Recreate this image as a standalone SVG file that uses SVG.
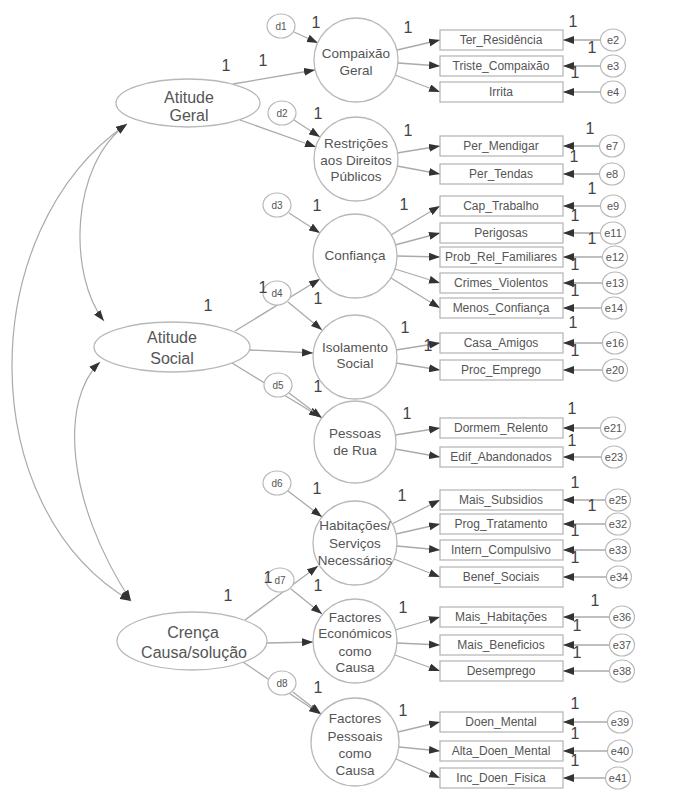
<svg xmlns="http://www.w3.org/2000/svg" width="673" height="791" viewBox="0 0 673 791">
<style>
.bg{fill:#fff}
.lat{fill:#fff;stroke:#b8b8b8;stroke-width:1.3}
.obs{fill:#fff;stroke:#b8b8b8;stroke-width:1.3}
.err{fill:#fff;stroke:#b8b8b8;stroke-width:1.2}
.ln{fill:none;stroke:#aaa;stroke-width:1.3;marker-end:url(#ah)}
.cov{fill:none;stroke:#aaa;stroke-width:1.2;marker-start:url(#ah);marker-end:url(#ah)}
text{font-family:"Liberation Sans",Arial,sans-serif;fill:#555;text-anchor:middle}
.tl{font-size:16px}
.tc{font-size:13.5px}
.tr{font-size:12px}
.td{font-size:10px}
.te{font-size:11px}
.one{font-size:16px;fill:#444}
</style>
<defs>
<marker id="ah" viewBox="0 0 11 8" refX="11" refY="4" markerWidth="11" markerHeight="8" markerUnits="userSpaceOnUse" orient="auto-start-reverse"><path d="M0,0 L11,4 L0,8 z" fill="#333"/></marker>
</defs>
<rect class="bg" x="0" y="0" width="673" height="791"/>

<g id="connectors">
<!-- covariances -->
<path class="cov" d="M127,124 C70,165 68,275 104,321"/>
<path class="cov" d="M100,362 C60,400 65,500 131,601"/>
<path class="cov" d="M127,124 C-27,230 -27,509 131,601"/>
<!-- structural -->
<line class="ln" x1="233" y1="84" x2="315" y2="70"/>
<line class="ln" x1="240" y1="120" x2="316" y2="147"/>
<line class="ln" x1="294" y1="32" x2="318" y2="43"/>
<line class="ln" x1="294" y1="120" x2="320" y2="137"/>
<line class="ln" x1="289" y1="213" x2="320" y2="233"/>
<line class="ln" x1="235" y1="331" x2="320" y2="279"/>
<line class="ln" x1="288" y1="302" x2="322" y2="330"/>
<line class="ln" x1="250" y1="350" x2="313" y2="353"/>
<line class="ln" x1="232" y1="363" x2="320" y2="417"/>
<line class="ln" x1="289" y1="393" x2="322" y2="418"/>
<line class="ln" x1="288" y1="491" x2="322" y2="517"/>
<line class="ln" x1="245" y1="620" x2="318" y2="566"/>
<line class="ln" x1="291" y1="589" x2="322" y2="614"/>
<line class="ln" x1="267" y1="643" x2="313" y2="642"/>
<line class="ln" x1="243" y1="662" x2="320" y2="714"/>
<line class="ln" x1="293" y1="692" x2="321" y2="714"/>
<!-- measurement -->
<line class="ln" x1="397" y1="50" x2="440" y2="40"/>
<line class="ln" x1="398" y1="63" x2="440" y2="66"/>
<line class="ln" x1="395" y1="75" x2="440" y2="92"/>
<line class="ln" x1="397" y1="153" x2="440" y2="146"/>
<line class="ln" x1="397" y1="166" x2="440" y2="174"/>
<line class="ln" x1="391" y1="235" x2="440" y2="206"/>
<line class="ln" x1="395" y1="245" x2="440" y2="233"/>
<line class="ln" x1="397" y1="256" x2="440" y2="257"/>
<line class="ln" x1="395" y1="269" x2="440" y2="283"/>
<line class="ln" x1="391" y1="278" x2="440" y2="308"/>
<line class="ln" x1="396" y1="350" x2="440" y2="343"/>
<line class="ln" x1="396" y1="363" x2="440" y2="370"/>
<line class="ln" x1="395" y1="435" x2="440" y2="428"/>
<line class="ln" x1="395" y1="449" x2="440" y2="457"/>
<line class="ln" x1="392" y1="524" x2="440" y2="500"/>
<line class="ln" x1="396" y1="534" x2="440" y2="524"/>
<line class="ln" x1="397" y1="546" x2="440" y2="550"/>
<line class="ln" x1="394" y1="559" x2="440" y2="577"/>
<line class="ln" x1="395" y1="630" x2="440" y2="617"/>
<line class="ln" x1="397" y1="643" x2="440" y2="645"/>
<line class="ln" x1="395" y1="655" x2="440" y2="671"/>
<line class="ln" x1="398" y1="732" x2="440" y2="722"/>
<line class="ln" x1="399" y1="747" x2="440" y2="751"/>
<line class="ln" x1="396" y1="759" x2="440" y2="778"/>
<!-- errors -->
<line class="ln" x1="601" y1="40" x2="563" y2="40"/>
<line class="ln" x1="601" y1="66" x2="563" y2="66"/>
<line class="ln" x1="601" y1="92" x2="563" y2="92"/>
<line class="ln" x1="600" y1="146" x2="563" y2="146"/>
<line class="ln" x1="600" y1="174" x2="563" y2="174"/>
<line class="ln" x1="601" y1="206" x2="563" y2="206"/>
<line class="ln" x1="601" y1="233" x2="563" y2="233"/>
<line class="ln" x1="603" y1="257" x2="563" y2="257"/>
<line class="ln" x1="603" y1="283" x2="563" y2="283"/>
<line class="ln" x1="602" y1="308" x2="563" y2="308"/>
<line class="ln" x1="603" y1="343" x2="563" y2="343"/>
<line class="ln" x1="603" y1="370" x2="563" y2="370"/>
<line class="ln" x1="601" y1="428" x2="563" y2="428"/>
<line class="ln" x1="602" y1="457" x2="563" y2="457"/>
<line class="ln" x1="606" y1="500" x2="563" y2="500"/>
<line class="ln" x1="606" y1="524" x2="563" y2="524"/>
<line class="ln" x1="606" y1="550" x2="563" y2="550"/>
<line class="ln" x1="607" y1="577" x2="563" y2="577"/>
<line class="ln" x1="610" y1="617" x2="563" y2="617"/>
<line class="ln" x1="610" y1="645" x2="563" y2="645"/>
<line class="ln" x1="610" y1="671" x2="563" y2="671"/>
<line class="ln" x1="608" y1="722" x2="563" y2="722"/>
<line class="ln" x1="608" y1="751" x2="563" y2="751"/>
<line class="ln" x1="606" y1="778" x2="563" y2="778"/>
</g>

<!-- exogenous latent -->
<g id="atitude_geral"><ellipse class="lat" cx="188" cy="103" rx="72" ry="24"/><text class="tl" x="189" y="103">Atitude</text><text class="tl" x="189" y="121">Geral</text></g>
<g id="atitude_social"><ellipse class="lat" cx="172" cy="347" rx="78" ry="25"/><text class="tl" x="172" y="343">Atitude</text><text class="tl" x="172" y="364">Social</text></g>
<g id="crenca"><ellipse class="lat" cx="192" cy="641" rx="75" ry="29"/><text class="tl" x="193" y="638">Crença</text><text class="tl" x="194" y="658">Causa/solução</text></g>

<!-- endogenous latent -->
<g id="compaixao"><circle class="lat" cx="356" cy="60" r="42"/><text class="tc" x="356" y="58">Compaixão</text><text class="tc" x="356" y="75">Geral</text></g>
<g id="restricoes"><circle class="lat" cx="356" cy="159" r="42"/><text class="tc" x="356" y="148">Restrições</text><text class="tc" x="356" y="165">aos Direitos</text><text class="tc" x="356" y="181">Públicos</text></g>
<g id="confianca"><circle class="lat" cx="355" cy="256" r="42"/><text class="tc" x="355" y="260">Confiança</text></g>
<g id="isolamento"><circle class="lat" cx="355" cy="357" r="42"/><text class="tc" x="355" y="352">Isolamento</text><text class="tc" x="355" y="368">Social</text></g>
<g id="pessoas_rua"><circle class="lat" cx="355" cy="442" r="41"/><text class="tc" x="355" y="438">Pessoas</text><text class="tc" x="355" y="455">de Rua</text></g>
<g id="habitacoes"><circle class="lat" cx="355" cy="543" r="42"/><text class="tc" x="355" y="530">Habitações/</text><text class="tc" x="355" y="548">Serviços</text><text class="tc" x="355" y="565">Necessários</text></g>
<g id="factores_economicos"><circle class="lat" cx="355" cy="641" r="42"/><text class="tc" x="355" y="622">Factores</text><text class="tc" x="355" y="638">Económicos</text><text class="tc" x="355" y="656">como</text><text class="tc" x="355" y="672">Causa</text></g>
<g id="factores_pessoais"><circle class="lat" cx="355" cy="742" r="44"/><text class="tc" x="355" y="723">Factores</text><text class="tc" x="355" y="741">Pessoais</text><text class="tc" x="355" y="758">como</text><text class="tc" x="355" y="775">Causa</text></g>

<!-- disturbances -->
<g id="d1"><ellipse class="err" cx="281" cy="26" rx="14" ry="12"/><text class="td" x="281" y="30">d1</text></g>
<g id="d2"><ellipse class="err" cx="282" cy="113" rx="14" ry="12"/><text class="td" x="282" y="117">d2</text></g>
<g id="d3"><ellipse class="err" cx="277" cy="205" rx="14" ry="12"/><text class="td" x="277" y="209">d3</text></g>
<g id="d4"><ellipse class="err" cx="277" cy="293" rx="14" ry="12"/><text class="td" x="277" y="297">d4</text></g>
<g id="d5"><ellipse class="err" cx="278" cy="385" rx="14" ry="12"/><text class="td" x="278" y="389">d5</text></g>
<g id="d6"><ellipse class="err" cx="277" cy="483" rx="14" ry="12"/><text class="td" x="277" y="487">d6</text></g>
<g id="d7"><ellipse class="err" cx="280" cy="580" rx="14" ry="12"/><text class="td" x="280" y="584">d7</text></g>
<g id="d8"><ellipse class="err" cx="282" cy="683" rx="14" ry="12"/><text class="td" x="282" y="687">d8</text></g>

<!-- observed -->
<g id="ter_residencia"><rect class="obs" x="440" y="30" width="123" height="20"/><text class="tr" x="501" y="44">Ter_Residência</text></g>
<g id="triste_compaixao"><rect class="obs" x="440" y="56" width="123" height="20"/><text class="tr" x="501" y="70">Triste_Compaixão</text></g>
<g id="irrita"><rect class="obs" x="440" y="82" width="123" height="20"/><text class="tr" x="501" y="96">Irrita</text></g>
<g id="per_mendigar"><rect class="obs" x="440" y="136" width="123" height="20"/><text class="tr" x="501" y="150">Per_Mendigar</text></g>
<g id="per_tendas"><rect class="obs" x="440" y="164" width="123" height="20"/><text class="tr" x="501" y="178">Per_Tendas</text></g>
<g id="cap_trabalho"><rect class="obs" x="440" y="196" width="123" height="20"/><text class="tr" x="501" y="210">Cap_Trabalho</text></g>
<g id="perigosas"><rect class="obs" x="440" y="223" width="123" height="20"/><text class="tr" x="501" y="237">Perigosas</text></g>
<g id="prob_rel_familiares"><rect class="obs" x="440" y="247" width="123" height="20"/><text class="tr" x="501" y="261">Prob_Rel_Familiares</text></g>
<g id="crimes_violentos"><rect class="obs" x="440" y="273" width="123" height="20"/><text class="tr" x="501" y="287">Crimes_Violentos</text></g>
<g id="menos_confianca"><rect class="obs" x="440" y="298" width="123" height="20"/><text class="tr" x="501" y="312">Menos_Confiança</text></g>
<g id="casa_amigos"><rect class="obs" x="440" y="333" width="123" height="20"/><text class="tr" x="501" y="347">Casa_Amigos</text></g>
<g id="proc_emprego"><rect class="obs" x="440" y="360" width="123" height="20"/><text class="tr" x="501" y="374">Proc_Emprego</text></g>
<g id="dormem_relento"><rect class="obs" x="440" y="418" width="123" height="20"/><text class="tr" x="501" y="432">Dormem_Relento</text></g>
<g id="edif_abandonados"><rect class="obs" x="440" y="447" width="123" height="20"/><text class="tr" x="501" y="461">Edif_Abandonados</text></g>
<g id="mais_subsidios"><rect class="obs" x="440" y="490" width="123" height="20"/><text class="tr" x="501" y="504">Mais_Subsidios</text></g>
<g id="prog_tratamento"><rect class="obs" x="440" y="514" width="123" height="20"/><text class="tr" x="501" y="528">Prog_Tratamento</text></g>
<g id="intern_compulsivo"><rect class="obs" x="440" y="540" width="123" height="20"/><text class="tr" x="501" y="554">Intern_Compulsivo</text></g>
<g id="benef_sociais"><rect class="obs" x="440" y="567" width="123" height="20"/><text class="tr" x="501" y="581">Benef_Sociais</text></g>
<g id="mais_habitacoes"><rect class="obs" x="440" y="607" width="123" height="20"/><text class="tr" x="501" y="621">Mais_Habitações</text></g>
<g id="mais_beneficios"><rect class="obs" x="440" y="635" width="123" height="20"/><text class="tr" x="501" y="649">Mais_Beneficios</text></g>
<g id="desemprego"><rect class="obs" x="440" y="661" width="123" height="20"/><text class="tr" x="501" y="675">Desemprego</text></g>
<g id="doen_mental"><rect class="obs" x="440" y="712" width="123" height="20"/><text class="tr" x="501" y="726">Doen_Mental</text></g>
<g id="alta_doen_mental"><rect class="obs" x="440" y="741" width="123" height="20"/><text class="tr" x="501" y="755">Alta_Doen_Mental</text></g>
<g id="inc_doen_fisica"><rect class="obs" x="440" y="768" width="123" height="20"/><text class="tr" x="501" y="782">Inc_Doen_Fisica</text></g>

<!-- errors -->
<g id="e2"><ellipse class="err" cx="613" cy="40" rx="12.5" ry="11"/><text class="te" x="613" y="44">e2</text></g>
<g id="e3"><ellipse class="err" cx="613" cy="66" rx="12.5" ry="11"/><text class="te" x="613" y="70">e3</text></g>
<g id="e4"><ellipse class="err" cx="613" cy="92" rx="12.5" ry="11"/><text class="te" x="613" y="96">e4</text></g>
<g id="e7"><ellipse class="err" cx="612" cy="146" rx="12.5" ry="11"/><text class="te" x="612" y="150">e7</text></g>
<g id="e8"><ellipse class="err" cx="612" cy="174" rx="12.5" ry="11"/><text class="te" x="612" y="178">e8</text></g>
<g id="e9"><ellipse class="err" cx="613" cy="206" rx="12.5" ry="11"/><text class="te" x="613" y="210">e9</text></g>
<g id="e11"><ellipse class="err" cx="613" cy="233" rx="12.5" ry="11"/><text class="te" x="613" y="237">e11</text></g>
<g id="e12"><ellipse class="err" cx="615" cy="257" rx="12.5" ry="11"/><text class="te" x="615" y="261">e12</text></g>
<g id="e13"><ellipse class="err" cx="615" cy="283" rx="12.5" ry="11"/><text class="te" x="615" y="287">e13</text></g>
<g id="e14"><ellipse class="err" cx="614" cy="308" rx="12.5" ry="11"/><text class="te" x="614" y="312">e14</text></g>
<g id="e16"><ellipse class="err" cx="615" cy="343" rx="12.5" ry="11"/><text class="te" x="615" y="347">e16</text></g>
<g id="e20"><ellipse class="err" cx="615" cy="370" rx="12.5" ry="11"/><text class="te" x="615" y="374">e20</text></g>
<g id="e21"><ellipse class="err" cx="613" cy="428" rx="12.5" ry="11"/><text class="te" x="613" y="432">e21</text></g>
<g id="e23"><ellipse class="err" cx="614" cy="457" rx="12.5" ry="11"/><text class="te" x="614" y="461">e23</text></g>
<g id="e25"><ellipse class="err" cx="618" cy="500" rx="12.5" ry="11"/><text class="te" x="618" y="504">e25</text></g>
<g id="e32"><ellipse class="err" cx="618" cy="524" rx="12.5" ry="11"/><text class="te" x="618" y="528">e32</text></g>
<g id="e33"><ellipse class="err" cx="618" cy="550" rx="12.5" ry="11"/><text class="te" x="618" y="554">e33</text></g>
<g id="e34"><ellipse class="err" cx="619" cy="577" rx="12.5" ry="11"/><text class="te" x="619" y="581">e34</text></g>
<g id="e36"><ellipse class="err" cx="622" cy="617" rx="12.5" ry="11"/><text class="te" x="622" y="621">e36</text></g>
<g id="e37"><ellipse class="err" cx="622" cy="645" rx="12.5" ry="11"/><text class="te" x="622" y="649">e37</text></g>
<g id="e38"><ellipse class="err" cx="622" cy="671" rx="12.5" ry="11"/><text class="te" x="622" y="675">e38</text></g>
<g id="e39"><ellipse class="err" cx="620" cy="722" rx="12.5" ry="11"/><text class="te" x="620" y="726">e39</text></g>
<g id="e40"><ellipse class="err" cx="620" cy="751" rx="12.5" ry="11"/><text class="te" x="620" y="755">e40</text></g>
<g id="e41"><ellipse class="err" cx="618" cy="778" rx="12.5" ry="11"/><text class="te" x="618" y="782">e41</text></g>

<g id="weights">
<text class="one" x="226" y="71">1</text><text class="one" x="263" y="66">1</text>
<text class="one" x="316" y="28">1</text><text class="one" x="318" y="119">1</text>
<text class="one" x="408" y="33">1</text><text class="one" x="573" y="27">1</text>
<text class="one" x="592" y="53">1</text><text class="one" x="575" y="78">1</text>
<text class="one" x="408" y="136">1</text><text class="one" x="590" y="134">1</text>
<text class="one" x="574" y="162">1</text><text class="one" x="592" y="194">1</text>
<text class="one" x="317" y="211">1</text><text class="one" x="404" y="210">1</text>
<text class="one" x="575" y="221">1</text><text class="one" x="592" y="244">1</text>
<text class="one" x="575" y="270">1</text><text class="one" x="575" y="296">1</text>
<text class="one" x="573" y="328">1</text><text class="one" x="575" y="356">1</text>
<text class="one" x="405" y="333">1</text><text class="one" x="428" y="351">1</text>
<text class="one" x="263" y="293">1</text><text class="one" x="318" y="304">1</text>
<text class="one" x="208" y="311">1</text><text class="one" x="318" y="392">1</text>
<text class="one" x="407" y="419">1</text><text class="one" x="572" y="414">1</text>
<text class="one" x="572" y="446">1</text><text class="one" x="317" y="494">1</text>
<text class="one" x="402" y="501">1</text><text class="one" x="575" y="488">1</text>
<text class="one" x="592" y="511">1</text><text class="one" x="575" y="536">1</text>
<text class="one" x="575" y="563">1</text><text class="one" x="268" y="583">1</text>
<text class="one" x="318" y="591">1</text><text class="one" x="228" y="601">1</text>
<text class="one" x="403" y="613">1</text><text class="one" x="595" y="606">1</text>
<text class="one" x="577" y="631">1</text><text class="one" x="577" y="658">1</text>
<text class="one" x="318" y="693">1</text><text class="one" x="403" y="716">1</text>
<text class="one" x="575" y="709">1</text><text class="one" x="575" y="739">1</text>
<text class="one" x="575" y="766">1</text>
</g>
</svg>
